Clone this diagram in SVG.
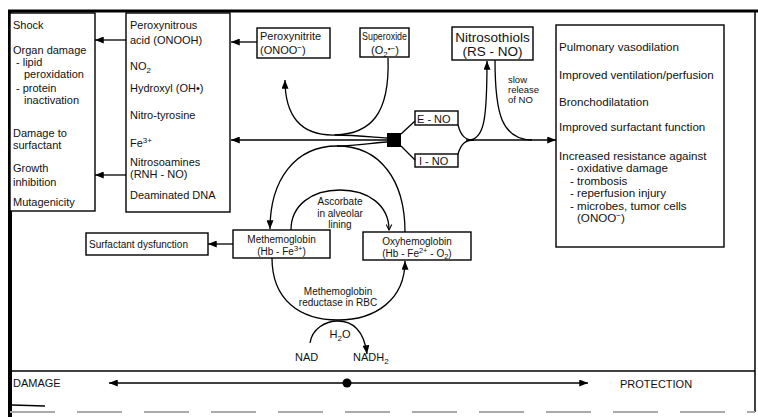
<svg xmlns="http://www.w3.org/2000/svg" width="758" height="417" viewBox="0 0 758 417">
<defs>
<marker id="ah" viewBox="0 0 10 8" refX="10" refY="4" markerWidth="9" markerHeight="7" markerUnits="userSpaceOnUse" orient="auto"><path d="M0,0 L10,4 L0,8 Z" fill="#000"/></marker>
<marker id="ahs" viewBox="0 0 10 8" refX="10" refY="4" markerWidth="9" markerHeight="7" markerUnits="userSpaceOnUse" orient="auto-start-reverse"><path d="M0,0 L10,4 L0,8 Z" fill="#000"/></marker>
<marker id="open" viewBox="0 0 10 10" refX="9" refY="5" markerWidth="7" markerHeight="7" markerUnits="userSpaceOnUse" orient="auto"><path d="M1,1 L9,5 L1,9" fill="none" stroke="#000" stroke-width="1.5"/></marker>
</defs>
<style>
text{font-family:"Liberation Sans",Arial,sans-serif;font-size:11px;fill:#111}
.box{fill:#fff;stroke:#000;stroke-width:1.4}
.ln{fill:none;stroke:#000;stroke-width:1.3}
.sm{font-size:10px}
.xs{font-size:9.5px}
.big{font-size:13.5px}
.rt{font-size:11.6px}
.c{text-anchor:middle}
</style>
<rect width="758" height="417" fill="#fff"/>
<g id="frame">
<line x1="8" y1="11" x2="758" y2="11" stroke="#000" stroke-width="3"/>
<line x1="10" y1="10" x2="10" y2="417" stroke="#000" stroke-width="4"/>
<line x1="755" y1="11" x2="755" y2="412" stroke="#000" stroke-width="1.5"/>
<line x1="10" y1="371" x2="755" y2="371" stroke="#000" stroke-width="1.6"/>
<line x1="10" y1="412" x2="755" y2="412" stroke="#aaa" stroke-width="2" stroke-dasharray="45 22"/>
<line x1="12" y1="405" x2="45" y2="406" stroke="#000" stroke-width="1.5"/>
</g>
<g id="damage-effects">
<rect class="box" x="10" y="13" width="85" height="198"/>
<text x="13" y="29">Shock</text>
<text x="13" y="54">Organ damage</text>
<text x="16" y="66">- lipid</text>
<text x="24" y="78">peroxidation</text>
<text x="16" y="92">- protein</text>
<text x="24" y="104">inactivation</text>
<text x="13" y="137">Damage to</text>
<text x="13" y="149">surfactant</text>
<text x="13" y="172">Growth</text>
<text x="13" y="186">inhibition</text>
<text x="13" y="206">Mutagenicity</text>
</g>
<g id="products">
<rect class="box" x="126" y="13" width="104" height="199"/>
<text x="130" y="29">Peroxynitrous</text>
<text x="130" y="44">acid (ONOOH)</text>
<text x="130" y="70">NO<tspan dy="3" font-size="8">2</tspan></text>
<text x="130" y="92">Hydroxyl (OH•)</text>
<text x="130" y="119">Nitro-tyrosine</text>
<text x="130" y="147">Fe<tspan dy="-4" font-size="8">3+</tspan></text>
<text x="130" y="166">Nitrosoamines</text>
<text x="130" y="178">(RNH - NO)</text>
<text x="130" y="199">Deaminated DNA</text>
</g>
<g id="peroxynitrite">
<rect class="box" x="257" y="28" width="73" height="30"/>
<text x="260" y="40">Peroxynitrite</text>
<text x="260" y="54">(ONOO<tspan dy="-4" font-size="8">−</tspan><tspan dy="4">)</tspan></text>
</g>
<g id="superoxide">
<rect class="box" x="360" y="28" width="49" height="29"/>
<text x="384.5" y="40" class="c" font-size="10.5" textLength="45" lengthAdjust="spacingAndGlyphs">Superoxide</text>
<text x="385" y="54" class="c">(O<tspan dy="3" font-size="8">2</tspan><tspan dy="-6" font-size="8">•−</tspan><tspan dy="3">)</tspan></text>
</g>
<g id="nitrosothiols">
<rect class="box" x="452" y="27" width="81" height="33"/>
<text x="492.5" y="42" class="c big">Nitrosothiols</text>
<text x="492.5" y="56" class="c big">(RS - NO)</text>
</g>
<g id="slow-release">
<text x="508" y="83" class="xs">slow</text>
<text x="508" y="93" class="xs">release</text>
<text x="508" y="103" class="xs">of NO</text>
</g>
<g id="protection-effects">
<rect class="box" x="556" y="25" width="168" height="222"/>
<text x="559" y="51" class="rt">Pulmonary vasodilation</text>
<text x="559" y="79" class="rt">Improved ventilation/perfusion</text>
<text x="559" y="106" class="rt">Bronchodilatation</text>
<text x="559" y="131" class="rt">Improved surfactant function</text>
<text x="559" y="160" class="rt">Increased resistance against</text>
<text x="570" y="172" class="rt">- oxidative damage</text>
<text x="570" y="184.5" class="rt">- trombosis</text>
<text x="570" y="197" class="rt">- reperfusion injury</text>
<text x="570" y="209.5" class="rt">- microbes, tumor cells</text>
<text x="577" y="222" class="rt">(ONOO<tspan dy="-4" font-size="8">−</tspan><tspan dy="4">)</tspan></text>
</g>
<g id="no-source">
<rect x="387" y="133" width="14" height="14" fill="#000"/>
</g>
<g id="e-no">
<rect class="box" x="415" y="111" width="43" height="14"/>
<text x="417" y="123" font-size="12">E - NO</text>
</g>
<g id="i-no">
<rect class="box" x="415" y="154" width="43" height="13"/>
<text x="419" y="165" font-size="12">I - NO</text>
</g>
<g id="methemoglobin">
<rect class="box" x="233" y="230" width="97" height="28"/>
<text x="281.5" y="243" class="c sm">Methemoglobin</text>
<text x="281.5" y="255" class="c sm">(Hb - Fe<tspan dy="-4" font-size="7.5">3+</tspan><tspan dy="4">)</tspan></text>
</g>
<g id="oxyhemoglobin">
<rect class="box" x="363" y="232" width="108" height="28"/>
<text x="417" y="245" class="c sm">Oxyhemoglobin</text>
<text x="417" y="257" class="c sm">(Hb - Fe<tspan dy="-4" font-size="7.5">2+</tspan><tspan dy="4"> - O</tspan><tspan dy="2" font-size="7.5">2</tspan><tspan dy="-2">)</tspan></text>
</g>
<g id="surfactant-dysfunction">
<rect class="box" x="86" y="233" width="122" height="22"/>
<text x="89" y="248" class="sm">Surfactant dysfunction</text>
</g>
<g id="labels">
<text x="340" y="205" class="c sm">Ascorbate</text>
<text x="340" y="217" class="c sm">in alveolar</text>
<text x="340" y="228" class="c sm">lining</text>
<text x="338" y="295" class="c sm">Methemoglobin</text>
<text x="338" y="306" class="c sm">reductase in RBC</text>
<text x="340" y="338" class="c">H<tspan dy="3" font-size="8">2</tspan><tspan dy="-3">O</tspan></text>
<text x="295" y="361">NAD</text>
<text x="353" y="361">NADH<tspan dy="3" font-size="8">2</tspan></text>
</g>
<g id="scale">
<text x="13" y="387" font-size="11.5">DAMAGE</text>
<text x="620" y="388" font-size="11.5">PROTECTION</text>
<circle cx="347" cy="383" r="4.5" fill="#000"/>
</g>
<g id="connectors">
<path class="ln" d="M257,42 L231,42" marker-end="url(#ah)"/>
<path class="ln" d="M126,40 L95,40" marker-end="url(#ah)"/>
<path class="ln" d="M126,175 L95,175" marker-end="url(#ah)"/>
<path class="ln" d="M387,140 L231,140" marker-end="url(#ah)"/>
<path class="ln" d="M233,244 L208,244" marker-end="url(#ah)"/>
<path class="ln" d="M388,58 C390,115 370,134 335,135 C300,136 285,115 285,80" marker-end="url(#ah)"/>
<path class="ln" d="M335,135 C355,135 372,137 387,138"/>
<path class="ln" d="M405,232 C405,180 380,146 337,146 C295,146 270,180 270,229" marker-end="url(#ah)"/>
<path class="ln" d="M337,146 C355,146 372,143 387,142"/>
<path class="ln" d="M291,230 C291,205 312,190 340,190 C368,190 389,205 389,230" marker-end="url(#open)"/>
<path class="ln" d="M272,258 C272,300 300,320 338,320 C375,320 405,300 405,261" marker-end="url(#ah)"/>
<path class="ln" d="M310,343 C312,329 325,321 338,321 C352,321 364,330 367,354" marker-end="url(#ah)"/>
<path class="ln" d="M401,134 L415,121"/>
<path class="ln" d="M401,146 L415,160"/>
<path class="ln" d="M458,125 C461,136 465,140 474,140"/>
<path class="ln" d="M458,154 C461,144 465,140 474,140"/>
<path class="ln" d="M466,140 L556,140" marker-end="url(#ah)"/>
<path class="ln" d="M470,140 C484,138 487,120 487,61" marker-end="url(#ah)"/>
<path class="ln" d="M495,60 C495,115 502,139 532,140"/>
<path class="ln" d="M109,383 L588,383" marker-start="url(#ahs)" marker-end="url(#ah)"/>
</g>
</svg>
